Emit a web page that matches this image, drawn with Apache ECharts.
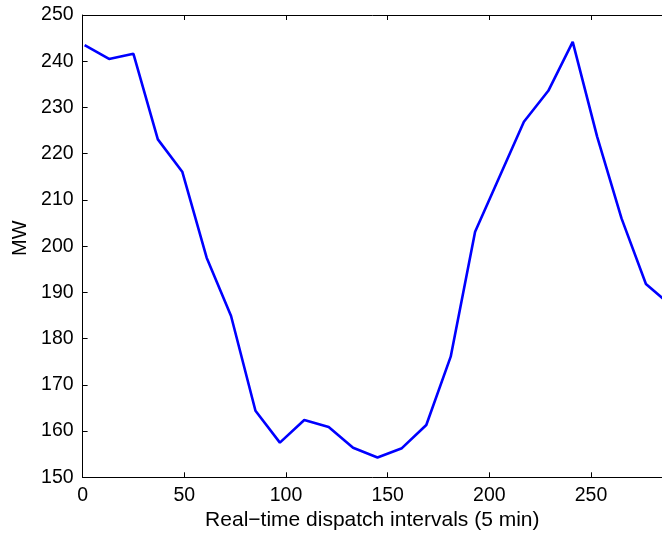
<!DOCTYPE html>
<html>
<head>
<meta charset="utf-8">
<script src="https://cdn.jsdelivr.net/npm/echarts@6/dist/echarts.min.js"></script>
<style>
html,body{margin:0;padding:0;background:#fff;}
#chart{width:662px;height:538px;}
</style>
</head>
<body>
<div id="chart"></div>
<script>
const intervals = [1, 13, 25, 37, 49, 61, 73, 85, 97, 109, 121, 133, 145, 157, 169, 181, 193, 205, 217, 229, 241, 253, 265, 277, 289];
const mw = [243.5, 240.5, 241.6, 223.1, 216.1, 197.5, 184.9, 164.4, 157.5, 162.4, 160.9, 156.4, 154.3, 156.3, 161.3, 176.1, 203.1, 215.0, 226.9, 233.6, 244.2, 223.7, 206.0, 191.8, 187.3];
const xTicks = [0, 50, 100, 150, 200, 250];
const yTicks = [150, 160, 170, 180, 190, 200, 210, 220, 230, 240, 250];

const font = 'Liberation Sans, Arial, Helvetica, sans-serif';
const chart = echarts.init(document.getElementById('chart'), null, {renderer: 'canvas'});
const axisLine = {show: true, lineStyle: {color: '#000', width: 1}};
const axisTick = {show: true, inside: true, length: 5, lineStyle: {color: '#000', width: 1}};
chart.setOption({
  animation: false,
  backgroundColor: '#fff',
  grid: {left: 82.6, top: 15, right: 0, height: 462.3, containLabel: false, outerBoundsMode: 'none'},
  xAxis: [{
    type: 'value', min: 0, max: 284.9, interval: 50,
    position: 'bottom',
    name: 'Real\u2212time dispatch intervals (5 min)',
    nameLocation: 'middle', nameGap: 30,
    nameTextStyle: {color: '#000', fontSize: 21, fontFamily: font},
    axisLine: axisLine, axisTick: axisTick,
    axisLabel: {color: '#000', fontSize: 19.5, fontFamily: font, margin: 8,
      showMaxLabel: false,
      formatter: v => xTicks.includes(v) ? String(v) : ''},
    splitLine: {show: false}
  }, {
    type: 'value', min: 0, max: 284.9, interval: 50,
    position: 'top',
    axisLine: axisLine, axisTick: axisTick,
    axisLabel: {show: false}, splitLine: {show: false}
  }],
  yAxis: [{
    type: 'value', min: 150, max: 250, interval: 10,
    position: 'left',
    name: 'MW', nameLocation: 'middle', nameGap: 52, nameRotate: 90,
    nameTextStyle: {color: '#000', fontSize: 20, fontFamily: font, padding: [0, 0, 0, 16]},
    axisLine: axisLine, axisTick: axisTick,
    axisLabel: {color: '#000', fontSize: 19.5, fontFamily: font, margin: 9,
      formatter: v => yTicks.includes(v) ? String(v) : ''},
    splitLine: {show: false}
  }],
  series: [{
    type: 'line',
    data: intervals.map((x, i) => [x, mw[i]]),
    showSymbol: false,
    lineStyle: {color: '#0000ff', width: 2.6},
    clip: true
  }]
});
</script>
</body>
</html>
